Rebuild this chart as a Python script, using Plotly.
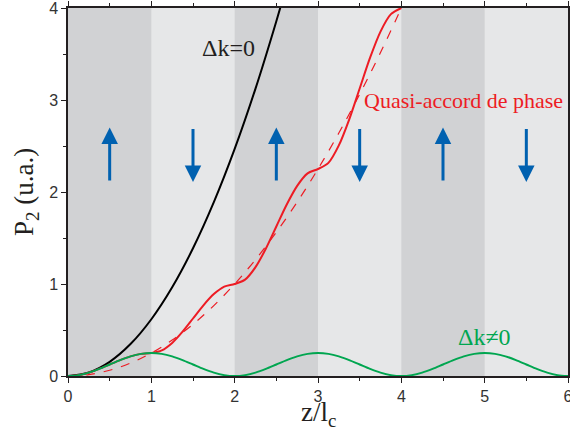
import plotly.graph_objects as go

# Δk = 0 (black)
z_dk0 = [0, 0.25, 0.5, 0.75, 1.0, 1.25, 1.5, 1.75, 2.0, 2.25, 2.5, 2.6]
p_dk0 = [0, 0.0386, 0.1543, 0.3471, 0.617, 0.9641, 1.3883, 1.8896, 2.468, 3.1236, 3.8563, 4.171]

# Quasi-phase matching (red solid), step 0.125
z_qpm = [i * 0.125 for i in range(33)]
p_qpm = [0, 0.0095, 0.0366, 0.0772, 0.125, 0.1728, 0.2134, 0.2405, 0.25,
         0.2786, 0.3598, 0.4815, 0.625, 0.7685, 0.8902, 0.9714, 1.0,
         1.0476, 1.1831, 1.3858, 1.625, 1.8642, 2.0669, 2.2024, 2.25,
         2.3166, 2.5063, 2.7901, 3.125, 3.4599, 3.7437, 3.9334, 4.0]

# QPM envelope (red dashed)
z_env = [0, 0.25, 0.5, 0.75, 1.0, 1.25, 1.5, 1.75, 2.0, 2.25, 2.5, 2.75, 3.0, 3.25, 3.5, 3.75, 4.0]
p_env = [0, 0.0156, 0.0625, 0.1406, 0.25, 0.3906, 0.5625, 0.7656, 1.0, 1.2656, 1.5625,
         1.8906, 2.25, 2.6406, 3.0625, 3.5156, 4.0]

# Δk ≠ 0 (green), step 0.125
z_dk = [i * 0.125 for i in range(49)]
_half = [0, 0.0095, 0.0366, 0.0772, 0.125, 0.1728, 0.2134, 0.2405, 0.25,
         0.2405, 0.2134, 0.1728, 0.125, 0.0772, 0.0366, 0.0095]
p_dk = _half * 3 + [0]

# Bands and arrows
dark_bands = [(0, 1), (2, 3), (4, 5)]
up_arrows_x = [0.5, 2.5, 4.5]
down_arrows_x = [1.5, 3.5, 5.5]
arrow_low, arrow_high = 2.11, 2.70

DARK = "#d1d2d4"
LIGHT = "#e6e7e8"
BLUE = "#0061b0"
RED = "#ed1c24"
GREEN = "#00a650"
INK = "#231f20"

fig = go.Figure()
fig.add_trace(go.Scatter(x=z_dk0, y=p_dk0, mode="lines", line=dict(color="black", width=2, shape="spline")))
fig.add_trace(go.Scatter(x=z_env, y=p_env, mode="lines", line=dict(color=RED, width=1.2, dash="dash", shape="spline")))
fig.add_trace(go.Scatter(x=z_qpm, y=p_qpm, mode="lines", line=dict(color=RED, width=2, shape="spline", smoothing=0.8)))
fig.add_trace(go.Scatter(x=z_dk, y=p_dk, mode="lines", line=dict(color=GREEN, width=2, shape="spline", smoothing=0.8)))

shapes = []
for a, b in dark_bands:
    shapes.append(dict(type="rect", xref="x", yref="y", x0=a, x1=b, y0=0, y1=4,
                       fillcolor=DARK, line=dict(width=0), layer="below"))

annotations = []
for x in up_arrows_x:
    annotations.append(dict(x=x, y=arrow_high, ax=x, ay=arrow_low, xref="x", yref="y",
                            axref="x", ayref="y", showarrow=True, arrowhead=2, arrowsize=1.1,
                            arrowwidth=3, arrowcolor=BLUE, text=""))
for x in down_arrows_x:
    annotations.append(dict(x=x, y=arrow_low, ax=x, ay=arrow_high, xref="x", yref="y",
                            axref="x", ayref="y", showarrow=True, arrowhead=2, arrowsize=1.1,
                            arrowwidth=3, arrowcolor=BLUE, text=""))

serif = "Liberation Serif"
annotations += [
    dict(x=1.92, y=3.57, xref="x", yref="y", text="Δk=0", showarrow=False,
         font=dict(family=serif, size=24, color=INK)),
    dict(x=4.75, y=3.0, xref="x", yref="y", text="Quasi-accord de phase", showarrow=False,
         font=dict(family=serif, size=22, color=RED)),
    dict(x=5.0, y=0.42, xref="x", yref="y", text="Δk≠0", showarrow=False,
         font=dict(family=serif, size=24, color=GREEN)),
    dict(x=0.5, y=0, xref="paper", yref="paper", yshift=-38, text="z/l<sub>c</sub>", showarrow=False,
         font=dict(family=serif, size=27, color=INK), yanchor="middle"),
    dict(x=0, y=0.5, xref="paper", yref="paper", xshift=-42, text="P<sub>2</sub> (u.a.)", showarrow=False,
         textangle=-90, font=dict(family=serif, size=27, color=INK), xanchor="center"),
]

axis_common = dict(showgrid=False, zeroline=False, showline=True, linecolor=INK, linewidth=1.5,
                   mirror="ticks", ticks="outside", ticklen=5, tickwidth=1, tickcolor=INK,
                   automargin=False, ticklabeloverflow="allow",
                   tickfont=dict(family="Liberation Sans", size=16, color="#333333"),
                   minor=dict(ticks="outside", ticklen=3, dtick=0.5, tickcolor=INK))

fig.update_layout(
    width=570, height=441,
    margin=dict(l=68, r=2, t=8, b=65),
    plot_bgcolor=LIGHT, paper_bgcolor="white",
    showlegend=False,
    shapes=shapes, annotations=annotations,
    xaxis=dict(range=[0, 6], dtick=1, **axis_common),
    yaxis=dict(range=[0, 4], dtick=1, **axis_common),
)

fig.write_html("out.html", config={"displayModeBar": False},
               post_script="document.body.style.margin='0';document.body.style.overflow='hidden';")
